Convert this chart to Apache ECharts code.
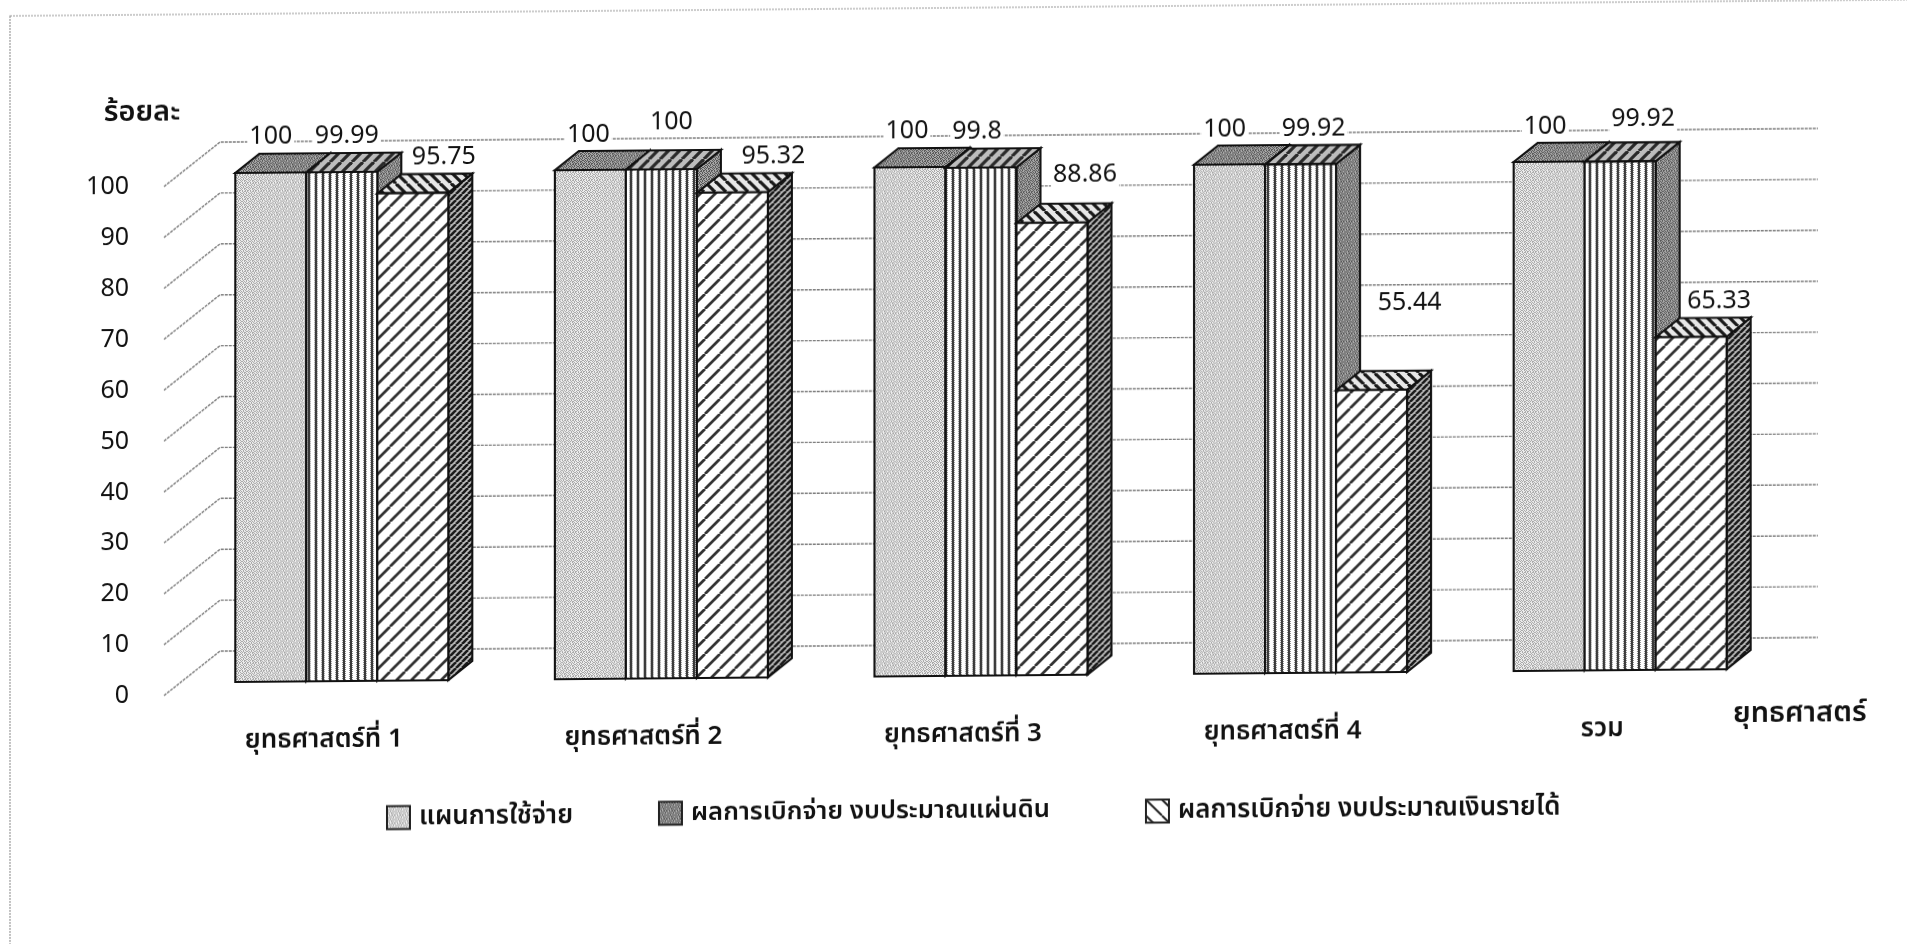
<!DOCTYPE html>
<html><head><meta charset="utf-8">
<style>html,body{margin:0;padding:0;background:#fff;overflow:hidden}
#chart{width:1907px;height:944px;transform:skewY(-0.49deg);transform-origin:0 0}</style>
<script src="https://cdn.jsdelivr.net/npm/echarts@6/dist/echarts.min.js"></script>
</head><body><div id="chart"></div>
<script>
var categories = ['ยุทธศาสตร์ที่ 1','ยุทธศาสตร์ที่ 2','ยุทธศาสตร์ที่ 3','ยุทธศาสตร์ที่ 4','รวม'];
var planValues = [100,100,100,100,100];
var budgetValues = [99.99,100,99.8,99.92,99.92];
var incomeValues = [95.75,95.32,88.86,55.44,65.33];
var planLabels = ['100','100','100','100','100'];
var budgetLabels = ['99.99','100','99.8','99.92','99.92'];
var incomeLabels = ['95.75','95.32','88.86','55.44','65.33'];
var seriesNames = ['แผนการใช้จ่าย','ผลการเบิกจ่าย งบประมาณแผ่นดิน','ผลการเบิกจ่าย งบประมาณเงินรายได้'];
var yTicks = [0,10,20,30,40,50,60,70,80,90,100];

// ---- layout / style (not data) ----
var FONT = '"Noto Sans","Noto Sans Thai",Tahoma,sans-serif';
var BAR_W = 71, BAR_SHIFT_X = 18, BAR_SHIFT_Y = -13, DEPTH_X = 24, DEPTH_Y = -19, WALL_X = 56, WALL_Y = -44;
var labelNudge = [
  [[0,-36],[-2,-35],[-3,-36],[-5,-35],[-4,-35]],
  [[5,-36],[10,-47],[-4,-36],[13,-36],[23,-43]],
  [[31,-36],[41,-36],[33,-48],[38,-87],[28,-36]]
];
function tile(w,h,draw){var c=document.createElement('canvas');c.width=w;c.height=h;var g=c.getContext('2d');draw(g);return {image:c,repeat:'repeat'};}
var SPECKLE = ['#.#..#.#','..#.##.#','#..#..#.','.##.#.#.','#..#.#..','.#.#..##','#.#.##..','.#..#.#.'];
function speckle(bg,fg){return tile(8,8,function(g){g.fillStyle=bg;g.fillRect(0,0,8,8);g.fillStyle=fg;
  SPECKLE.forEach(function(r,y){for(var x=0;x<8;x++){if(r[x]==='#')g.fillRect(x,y,1,1);}});});}
function hatch(size,lw,bg,fg,back){return tile(size,size,function(g){g.fillStyle=bg;g.fillRect(0,0,size,size);g.strokeStyle=fg;g.lineWidth=lw;
  for(var k=-1;k<=1;k++){g.beginPath();if(back){g.moveTo(k*size,0);g.lineTo(k*size+size,size);}else{g.moveTo(k*size,size);g.lineTo(k*size+size,0);}g.stroke();}});}
var light = speckle('#eeeeee','#a6a6a6');
var dark = speckle('#aaaaaa','#555555');
var vstripe = tile(7,2,function(g){g.fillStyle='#fff';g.fillRect(0,0,7,2);g.fillStyle='#3a3a3a';g.fillRect(0,0,2,2);g.fillStyle='#888';g.fillRect(2,0,1,1);g.fillRect(6,1,1,1);});
var diag = hatch(15,2.7,'#fff','#333',false);
var backDiag = hatch(11,3.2,'#e8e8e8','#1a1a1a',true);
var topHatch = hatch(11,3.2,'#bdbdbd','#2a2a2a',false);
var sideHatch = hatch(6,2.6,'#bbb','#1a1a1a',false);
var faces = [
  {front:light, top:dark, side:dark},
  {front:vstripe, top:topHatch, side:dark},
  {front:diag, top:backDiag, side:sideHatch}
];
var legendLook = [light, dark, hatch(16,2,'#fff','#222',true)];
var EDGE = {stroke:'#111',lineWidth:2.1,lineJoin:'miter'};

function barRender(sIdx,labels){
  return function(params,api){
    var i=api.value(0), v=api.value(1);
    var top=api.coord([i,v]), base=api.coord([i,0]);
    var cx=top[0]+BAR_SHIFT_X+(sIdx-1)*BAR_W;
    var x0=cx-BAR_W/2, x1=cx+BAR_W/2, yt=top[1]+BAR_SHIFT_Y, yb=base[1]+BAR_SHIFT_Y;
    var f=faces[sIdx], n=labelNudge[sIdx][i];
    function poly(pts,fill){return {type:'polygon',shape:{points:pts},style:Object.assign({fill:fill},EDGE)};}
    return {type:'group',children:[
      poly([[x1,yt],[x1+DEPTH_X,yt+DEPTH_Y],[x1+DEPTH_X,yb+DEPTH_Y],[x1,yb]],f.side),
      poly([[x0,yt],[x1,yt],[x1+DEPTH_X,yt+DEPTH_Y],[x0+DEPTH_X,yt+DEPTH_Y]],f.top),
      poly([[x0,yt],[x1,yt],[x1,yb],[x0,yb]],f.front),
      {type:'text',z2:50,style:{text:labels[i],x:cx+n[0],y:yt+n[1],align:'center',verticalAlign:'middle',
        font:'25px '+FONT,fill:'#111',backgroundColor:'#fff',padding:[0,2]}}
    ]};
  };
}
function wallRender(params,api){
  var p=api.coord([0,api.value(1)]), g=params.coordSys, x=g.x, y=p[1];
  return {type:'polyline',shape:{points:[[x,y],[x+WALL_X,y+WALL_Y],[x+g.width+WALL_X,y+WALL_Y]]},
    style:{fill:null,stroke:'#7d7d7d',lineWidth:1.4,lineDash:[3,1]}};
}
function asData(arr){return arr.map(function(v,i){return [i,v];});}
function barSeries(idx,vals,labels){
  return {name:seriesNames[idx],type:'custom',z:3,clip:false,encode:{x:0,y:1},data:asData(vals),renderItem:barRender(idx,labels),
    itemStyle:{color:legendLook[idx],borderColor:'#222',borderWidth:1.8}};
}
var chart=echarts.init(document.getElementById('chart'));
var legendLeft=[381,653,1140], legendTop=[803,801,803], legendSize=[26,25.6,25.8];
chart.setOption({
  animation:false,backgroundColor:'#fff',
  textStyle:{fontFamily:FONT},
  graphic:[{type:'rect',shape:{x:10,y:16,width:2000,height:932},style:{fill:null,stroke:'#999',lineWidth:1.2,lineDash:[2,1]},silent:true,z:0}],
  grid:{left:164,top:188,width:1598,height:509,containLabel:false},
  xAxis:{type:'category',data:categories,
    axisLine:{show:false},axisTick:{show:false},splitLine:{show:false},
    axisLabel:{margin:33,fontSize:26,color:'#111',fontFamily:FONT,fontWeight:600},
    name:'ยุทธศาสตร์',nameLocation:'end',nameGap:-29,nameMoveOverlap:false,
    nameTextStyle:{fontSize:29,color:'#111',fontFamily:FONT,fontWeight:600,align:'left',verticalAlign:'top',padding:[17,0,0,0]}},
  yAxis:{type:'value',min:0,max:100,interval:10,
    axisLine:{show:false},axisTick:{show:false},splitLine:{show:false},
    axisLabel:{margin:35,fontSize:25,color:'#111',fontFamily:FONT},
    name:'ร้อยละ',nameLocation:'end',nameGap:60,
    nameTextStyle:{fontSize:29,color:'#111',fontFamily:FONT,fontWeight:600,align:'center',padding:[0,0,0,-44]}},
  legend:seriesNames.map(function(n,i){return {data:[n],left:legendLeft[i],top:legendTop[i],itemWidth:23,itemHeight:23,itemGap:0,icon:'rect',
    textStyle:{fontSize:legendSize[i],color:'#111',fontFamily:FONT,fontWeight:600,padding:[0,0,0,4]}};}),
  series:[
    {type:'custom',z:1,silent:true,clip:false,encode:{x:0,y:1},data:yTicks.map(function(t){return [0,t];}),renderItem:wallRender},
    barSeries(0,planValues,planLabels),
    barSeries(1,budgetValues,budgetLabels),
    barSeries(2,incomeValues,incomeLabels)
  ]
});
</script></body></html>
